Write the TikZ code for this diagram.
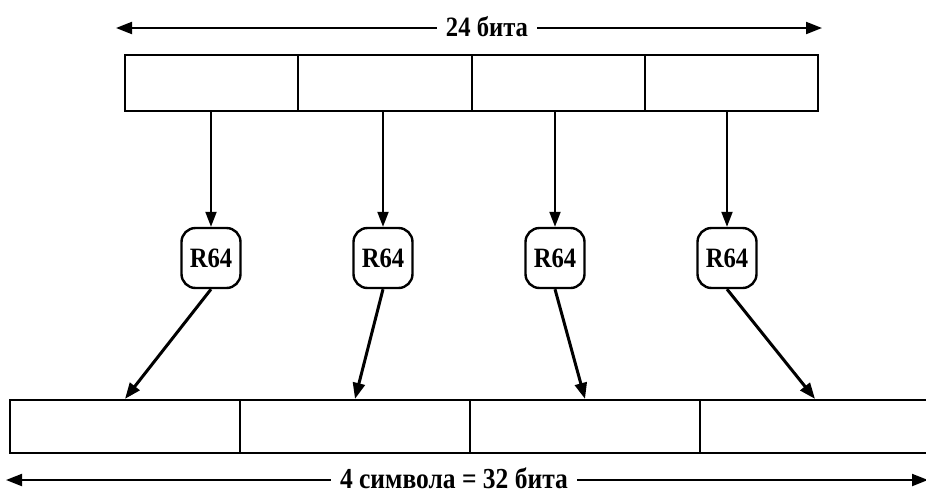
\documentclass[tikz,border=0pt]{standalone}
\usepackage{fontspec}
\setmainfont{Liberation Serif}[FakeStretch=0.88]
\usetikzlibrary{arrows.meta}
\begin{document}
\begin{tikzpicture}[x=1pt,y=-1pt,
  cell/.style={draw, line width=2.2pt, minimum width=#1, inner sep=0pt},
  topcell/.style={cell=173.3pt, minimum height=56pt},
  botcell/.style={cell=230pt, minimum height=53pt},
  rsf/.style={draw, line width=2.4pt, rounded corners=14pt, fill=white, minimum width=59pt, minimum height=60pt, inner sep=0pt, font=\bfseries\fontsize{28}{30}\selectfont},
  downarr/.style={line width=2pt, -{Triangle[length=15pt,width=11pt]}},
  slantarr/.style={line width=3pt, -{Triangle[length=16pt,width=12pt]}},
  dimarr/.style={line width=2pt, {Triangle[length=16pt,width=12pt]}-{Triangle[length=16pt,width=12pt]}},
  lbl/.style={fill=white, inner xsep=9pt, inner ysep=0pt, font=\bfseries\fontsize{28}{30}\selectfont}
]
\useasboundingbox (0,0) rectangle (926,493);
% top register
\foreach \i/\x in {1/211.6,2/385,3/558.3,4/731.6}
  \node[topcell] (t\i) at (\x,83) {};
% bottom register
\foreach \i/\x in {1/125,2/355,3/585,4/815}
  \node[botcell] (b\i) at (\x,426.5) {};
% R64 nodes
\foreach \i/\x in {1/211,2/383,3/555,4/727}
  \node[rsf] (r\i) at (\x,258) {R64};
% arrows
\foreach \i in {1,2,3,4} {
  \draw[downarr] (t\i.south -| r\i) -- (r\i.north);
  \draw[slantarr] (r\i.south) -- (b\i.north);
}
% dimension lines
\coordinate (tl) at (116,28);
\coordinate (tr) at (822,28);
\draw[dimarr] (tl) -- (tr);
\node[lbl] (tlab) at (487,27) {24 бита};
\coordinate (bl) at (6,480);
\coordinate (br) at (928,480);
\draw[dimarr] (bl) -- (br);
\node[lbl, font=\bfseries\fontsize{29}{30}\selectfont] (blab) at (454,478) {4 символа = 32 бита};
\end{tikzpicture}
\end{document}
